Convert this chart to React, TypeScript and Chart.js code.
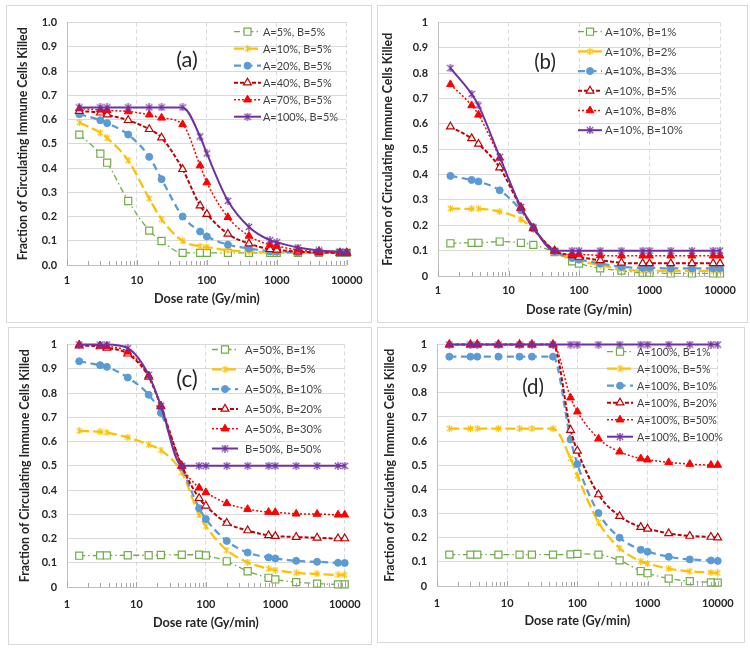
import React, { useEffect, useRef } from 'react';
import { Chart, registerables } from 'chart.js';

Chart.register(...registerables);
const FONT = 'Lato, "Open Sans", sans-serif';
Chart.defaults.font.family = FONT;

// ---------------- data ----------------
const doseRates = [1.5, 3, 3.75, 7.5, 15, 22.5, 45, 80, 100, 200, 400, 800, 1000, 2000, 4000, 8000, 10000];
const xTickValues = [1, 10, 100, 1000, 10000];
const xTickLabels = ['1', '10', '100', '1000', '10000'];
const yTickLabelsA = ['0.0', '0.1', '0.2', '0.3', '0.4', '0.5', '0.6', '0.7', '0.8', '0.9', '1.0'];
const yTickLabelsOther = ['0', '0.1', '0.2', '0.3', '0.4', '0.5', '0.6', '0.7', '0.8', '0.9', '1'];
const xAxisTitle = 'Dose rate (Gy/min)';
const yAxisTitle = 'Fraction of Circulating Immune Cells Killed';
const panelTags = ['(a)', '(b)', '(c)', '(d)'];

// panel (a)
const legendA = ['A=5%, B=5%', 'A=10%, B=5%', 'A=20%, B=5%', 'A=40%, B=5%', 'A=70%, B=5%', 'A=100%, B=5%'];
const a_A5 = [0.538, 0.459, 0.422, 0.264, 0.142, 0.099, 0.05, 0.05, 0.05, 0.05, 0.05, 0.05, 0.05, 0.05, 0.05, 0.05, 0.05];
const a_A10 = [0.588, 0.545, 0.524, 0.431, 0.274, 0.189, 0.099, 0.077, 0.074, 0.061, 0.055, 0.052, 0.052, 0.05, 0.05, 0.05, 0.05];
const a_A20 = [0.622, 0.597, 0.585, 0.538, 0.446, 0.354, 0.2, 0.138, 0.118, 0.084, 0.068, 0.057, 0.055, 0.052, 0.05, 0.05, 0.05];
const a_A40 = [0.635, 0.628, 0.62, 0.597, 0.56, 0.525, 0.395, 0.245, 0.21, 0.128, 0.088, 0.065, 0.062, 0.055, 0.052, 0.05, 0.05];
const a_A70 = [0.645, 0.64, 0.638, 0.633, 0.62, 0.607, 0.58, 0.41, 0.34, 0.197, 0.12, 0.083, 0.078, 0.062, 0.055, 0.052, 0.05];
const a_A100 = [0.65, 0.65, 0.65, 0.65, 0.65, 0.65, 0.65, 0.53, 0.46, 0.265, 0.157, 0.102, 0.094, 0.072, 0.06, 0.055, 0.053];

// panel (b)
const legendB = ['A=10%, B=1%', 'A=10%, B=2%', 'A=10%, B=3%', 'A=10%, B=5%', 'A=10%, B=8%', 'A=10%, B=10%'];
const b_B1 = [0.129, 0.131, 0.131, 0.136, 0.131, 0.123, 0.094, 0.058, 0.049, 0.03, 0.021, 0.013, 0.013, 0.01, 0.01, 0.01, 0.01];
const b_B2 = [0.266, 0.265, 0.265, 0.254, 0.224, 0.185, 0.094, 0.069, 0.06, 0.043, 0.026, 0.021, 0.021, 0.02, 0.02, 0.02, 0.02];
const b_B3 = [0.395, 0.379, 0.373, 0.338, 0.259, 0.188, 0.098, 0.071, 0.065, 0.049, 0.036, 0.032, 0.032, 0.03, 0.03, 0.03, 0.03];
const b_B5 = [0.589, 0.543, 0.521, 0.428, 0.269, 0.188, 0.1, 0.081, 0.075, 0.062, 0.052, 0.05, 0.05, 0.05, 0.05, 0.05, 0.05];
const b_B8 = [0.756, 0.673, 0.636, 0.466, 0.272, 0.191, 0.1, 0.085, 0.085, 0.081, 0.08, 0.08, 0.08, 0.08, 0.08, 0.08, 0.08];
const b_B10 = [0.82, 0.718, 0.673, 0.47, 0.272, 0.193, 0.1, 0.1, 0.1, 0.1, 0.1, 0.1, 0.1, 0.1, 0.1, 0.1, 0.1];

// panel (c)
const legendC = ['A=50%, B=1%', 'A=50%, B=5%', 'A=50%, B=10%', 'A=50%, B=20%', 'A=50%, B=30%', 'B=50%, B=50%'];
const c_B1 = [0.129, 0.13, 0.13, 0.131, 0.131, 0.132, 0.133, 0.133, 0.13, 0.106, 0.065, 0.038, 0.031, 0.02, 0.014, 0.011, 0.011];
const c_B5 = [0.644, 0.64, 0.637, 0.617, 0.587, 0.565, 0.472, 0.298, 0.251, 0.152, 0.102, 0.075, 0.07, 0.058, 0.054, 0.05, 0.05];
const c_B10 = [0.931, 0.915, 0.908, 0.864, 0.793, 0.718, 0.495, 0.325, 0.28, 0.19, 0.142, 0.122, 0.118, 0.108, 0.104, 0.1, 0.099];
const c_B20 = [0.996, 0.992, 0.986, 0.962, 0.867, 0.745, 0.5, 0.366, 0.335, 0.264, 0.233, 0.213, 0.21, 0.206, 0.203, 0.2, 0.2];
const c_B30 = [1.0, 0.996, 0.993, 0.97, 0.872, 0.748, 0.5, 0.409, 0.39, 0.345, 0.321, 0.309, 0.308, 0.302, 0.301, 0.298, 0.298];
const c_B50 = [1.0, 1.0, 1.0, 0.985, 0.875, 0.748, 0.5, 0.5, 0.5, 0.5, 0.5, 0.5, 0.5, 0.5, 0.5, 0.5, 0.5];

// panel (d)
const legendD = ['A=100%, B=1%', 'A=100%, B=5%', 'A=100%, B=10%', 'A=100%, B=20%', 'A=100%, B=50%', 'A=100%, B=100%'];
const d_B1 = [0.13, 0.13, 0.13, 0.13, 0.13, 0.13, 0.13, 0.131, 0.133, 0.13, 0.106, 0.062, 0.053, 0.031, 0.02, 0.015, 0.014];
const d_B5 = [0.652, 0.652, 0.652, 0.652, 0.652, 0.652, 0.652, 0.528, 0.457, 0.264, 0.157, 0.102, 0.093, 0.072, 0.061, 0.056, 0.054];
const d_B10 = [0.95, 0.95, 0.95, 0.95, 0.95, 0.95, 0.95, 0.607, 0.505, 0.302, 0.2, 0.15, 0.142, 0.121, 0.11, 0.106, 0.104];
const d_B20 = [1.0, 1.0, 1.0, 1.0, 1.0, 1.0, 1.0, 0.646, 0.56, 0.379, 0.289, 0.244, 0.237, 0.218, 0.207, 0.203, 0.2];
const d_B50 = [1.0, 1.0, 1.0, 1.0, 1.0, 1.0, 1.0, 0.78, 0.722, 0.61, 0.556, 0.528, 0.523, 0.512, 0.505, 0.501, 0.501];
const d_B100 = [1.0, 1.0, 1.0, 1.0, 1.0, 1.0, 1.0, 1.0, 1.0, 1.0, 1.0, 1.0, 1.0, 1.0, 1.0, 1.0, 1.0];

// ---------------- styles ----------------
type SeriesStyle = { color: string; dash: number[]; width: number; point: string; radius: number; fill: string; pbw: number };
const seriesStyles: SeriesStyle[] = [
  { color: '#70AD47', dash: [6, 3, 1.5, 3], width: 1.3, point: 'rect', radius: 5, fill: '#ffffff', pbw: 1.2 },
  { color: '#FFC000', dash: [10, 4], width: 2.25, point: 'star', radius: 7, fill: '#FFC000', pbw: 1.2 },
  { color: '#5B9BD5', dash: [7, 4.5], width: 2.25, point: 'circle', radius: 3.5, fill: '#5B9BD5', pbw: 1 },
  { color: '#C00000', dash: [4, 2], width: 2, point: 'triangle', radius: 4.5, fill: '#ffffff', pbw: 1.2 },
  { color: '#FF0000', dash: [2, 2], width: 1.5, point: 'triangle', radius: 4.5, fill: '#FF0000', pbw: 1 },
  { color: '#7030A0', dash: [], width: 2, point: 'star', radius: 8, fill: '#7030A0', pbw: 1.2 },
];

// target text widths measured on the reference, used to size the substitute font
const textTargets = { yTitle: 233, xTitle: 106, tick: 31.7, tag: 21.7 };

type PanelCfg = {
  box: { left: number; top: number; w: number; h: number };
  plot: { l: number; t: number; r: number; b: number };
  yLabels: string[];
  yTitleX: number;
  xTitleY: number;
  xLabelGap: number;
  tag: { text: string; x: number; y: number };
  legend: { x: number; len: number; textX: number; y0: number; dy: number; widest: string; width: number };
  labels: string[];
  series: number[][];
};

const panels: PanelCfg[] = [
  {
    box: { left: 6, top: 5, w: 366, h: 318 },
    plot: { l: 60, t: 13, r: 342, b: 259 },
    yLabels: yTickLabelsA, yTitleX: 16, xTitleY: 293, xLabelGap: 15,
    tag: { text: panelTags[0], x: 180, y: 54 },
    legend: { x: 227, len: 27, textX: 256, y0: 25.7, dy: 17, widest: 'A=100%, B=5%', width: 75 },
    labels: legendA, series: [a_A5, a_A10, a_A20, a_A40, a_A70, a_A100],
  },
  {
    box: { left: 377, top: 5, w: 371, h: 318 },
    plot: { l: 60, t: 12, r: 342, b: 270 },
    yLabels: yTickLabelsOther, yTitleX: 10, xTitleY: 304, xLabelGap: 14,
    tag: { text: panelTags[1], x: 167, y: 56 },
    legend: { x: 200, len: 24, textX: 227, y0: 25.7, dy: 19.7, widest: 'A=10%, B=10%', width: 78 },
    labels: legendB, series: [b_B1, b_B2, b_B3, b_B5, b_B8, b_B10],
  },
  {
    box: { left: 8, top: 327, w: 364, h: 318 },
    plot: { l: 58, t: 13, r: 340, b: 259 },
    yLabels: yTickLabelsOther, yTitleX: 16, xTitleY: 295, xLabelGap: 17,
    tag: { text: panelTags[2], x: 178, y: 52 },
    legend: { x: 203, len: 26, textX: 236, y0: 21.5, dy: 19.8, widest: 'A=50%, B=10%', width: 77 },
    labels: legendC, series: [c_B1, c_B5, c_B10, c_B20, c_B30, c_B50],
  },
  {
    box: { left: 377, top: 327, w: 368, h: 316 },
    plot: { l: 59, t: 12, r: 342, b: 258 },
    yLabels: yTickLabelsOther, yTitleX: 12, xTitleY: 293, xLabelGap: 17,
    tag: { text: panelTags[3], x: 155, y: 59 },
    legend: { x: 229, len: 26, textX: 259, y0: 23.7, dy: 17, widest: 'A=100%, B=100%', width: 86 },
    labels: legendD, series: [d_B1, d_B5, d_B10, d_B20, d_B50, d_B100],
  },
];

const TEXT = '#262626';

function fitSize(text: string, weight: string, target: number): number {
  const c = document.createElement('canvas').getContext('2d')!;
  c.font = `${weight} 100px ${FONT}`;
  const w = c.measureText(text).width;
  return w > 0 ? (100 * target) / w : 12;
}

function makeAsterisk(color: string, size: number, lw: number): HTMLCanvasElement {
  const c = document.createElement('canvas');
  c.width = size;
  c.height = size;
  const g = c.getContext('2d')!;
  g.strokeStyle = color;
  g.lineWidth = lw;
  const p = 0.8;
  g.beginPath();
  g.moveTo(p, p);
  g.lineTo(size - p, size - p);
  g.moveTo(size - p, p);
  g.lineTo(p, size - p);
  g.moveTo(size / 2, 0);
  g.lineTo(size / 2, size);
  g.stroke();
  return c;
}

function drawMarker(ctx: CanvasRenderingContext2D, ds: any, x: number, y: number) {
  const style = ds.pointStyle;
  if (style && typeof style === 'object') {
    ctx.drawImage(style, x - style.width / 2, y - style.height / 2);
    return;
  }
  const r = ds.pointRadius;
  ctx.fillStyle = ds.pointBackgroundColor;
  ctx.strokeStyle = ds.pointBorderColor;
  ctx.lineWidth = ds.pointBorderWidth;
  ctx.setLineDash([]);
  ctx.beginPath();
  if (style === 'rect') {
    const s = r * Math.SQRT1_2;
    ctx.rect(x - s, y - s, 2 * s, 2 * s);
  } else if (style === 'circle') {
    ctx.arc(x, y, r, 0, Math.PI * 2);
  } else if (style === 'triangle') {
    let a = 0;
    ctx.moveTo(x + Math.sin(a) * r, y - Math.cos(a) * r);
    a += (2 * Math.PI) / 3;
    ctx.lineTo(x + Math.sin(a) * r, y - Math.cos(a) * r);
    a += (2 * Math.PI) / 3;
    ctx.lineTo(x + Math.sin(a) * r, y - Math.cos(a) * r);
    ctx.closePath();
  }
  ctx.fill();
  ctx.stroke();
}

const panelDecor = {
  id: 'panelDecor',
  afterDatasetsDraw(chart: any, _args: any, opts: any) {
    const ctx: CanvasRenderingContext2D = chart.ctx;
    const xs = chart.scales.x;
    const area = chart.chartArea;
    // minor / major tick marks inside the x axis
    ctx.save();
    ctx.strokeStyle = '#a6a6a6';
    ctx.lineWidth = 1;
    for (let e = 0; e < xTickValues.length; e++) {
      const base = xTickValues[e];
      for (let m = 1; m < 10; m++) {
        const v = base * m;
        if (v > xTickValues[xTickValues.length - 1]) break;
        const px = Math.round(xs.getPixelForValue(v)) + 0.5;
        const len = m === 1 ? 5 : 4;
        ctx.beginPath();
        ctx.moveTo(px, area.bottom);
        ctx.lineTo(px, area.bottom - len);
        ctx.stroke();
      }
    }
    ctx.restore();

    // legend
    const lg = opts.legend;
    chart.data.datasets.forEach((ds: any, i: number) => {
      const y = lg.y0 + i * lg.dy;
      ctx.save();
      ctx.strokeStyle = ds.borderColor;
      ctx.lineWidth = ds.borderWidth;
      ctx.setLineDash(ds.borderDash || []);
      ctx.beginPath();
      ctx.moveTo(lg.x, y);
      ctx.lineTo(lg.x + lg.len, y);
      ctx.stroke();
      drawMarker(ctx, ds, lg.x + lg.len / 2, y);
      ctx.fillStyle = '#404040';
      ctx.font = `${opts.legendSize}px ${FONT}`;
      ctx.textBaseline = 'middle';
      ctx.textAlign = 'left';
      ctx.fillText(ds.label, lg.textX, y + 0.5);
      ctx.restore();
    });

    // panel tag
    ctx.save();
    ctx.fillStyle = '#262626';
    ctx.font = `${opts.tagSize}px ${FONT}`;
    ctx.textAlign = 'center';
    ctx.textBaseline = 'middle';
    ctx.fillText(opts.tag.text, opts.tag.x, opts.tag.y);
    ctx.restore();
  },
};

function Panel({ cfg }: { cfg: PanelCfg }) {
  const ref = useRef<HTMLCanvasElement>(null);
  const W = cfg.box.w - 2;
  const H = cfg.box.h - 2;

  useEffect(() => {
    if (!ref.current) return;
    const tickSize = fitSize('10000', 'bold', textTargets.tick);
    const xTitleSize = fitSize(xAxisTitle, 'bold', textTargets.xTitle);
    const yTitleSize = fitSize(yAxisTitle, 'bold', textTargets.yTitle);
    const legendSize = fitSize(cfg.legend.widest, 'normal', cfg.legend.width);
    const tagSize = fitSize(cfg.tag.text, 'normal', textTargets.tag);
    const tickLh = tickSize * 1.2;
    const xTitleLh = xTitleSize * 1.2;
    const yTitleLh = yTitleSize * 1.2;

    const datasets = cfg.series.map((vals, i) => {
      const st = seriesStyles[i];
      return {
        label: cfg.labels[i],
        data: doseRates.map((x, j) => ({ x, y: vals[j] })),
        borderColor: st.color,
        borderWidth: st.width,
        borderDash: st.dash,
        pointStyle: st.point === 'star' ? makeAsterisk(st.color, st.radius, st.pbw) : st.point,
        pointRadius: st.point === 'star' ? 3 : st.radius,
        pointBackgroundColor: st.fill,
        pointBorderColor: st.color,
        pointBorderWidth: st.pbw,
        pointHoverRadius: st.radius,
        cubicInterpolationMode: 'monotone' as const,
        fill: false,
        clip: false as const,
        order: 6 - i,
      };
    });

    const chart = new Chart(ref.current, {
      type: 'line',
      data: { datasets },
      options: {
        animation: false,
        responsive: false,
        maintainAspectRatio: false,
        events: [],
        layout: { padding: { left: 0, top: cfg.plot.t, right: W - cfg.plot.r, bottom: 0 } },
        plugins: {
          legend: { display: false },
          tooltip: { enabled: false },
          panelDecor: { legend: cfg.legend, tag: cfg.tag, legendSize, tagSize },
        } as any,
        scales: {
          x: {
            type: 'logarithmic',
            min: 1,
            max: 10000,
            afterFit: (s: any) => { s.height = H - cfg.plot.b; },
            afterBuildTicks: (s: any) => { s.ticks = xTickValues.map((v) => ({ value: v })); },
            ticks: {
              autoSkip: false,
              maxRotation: 0,
              padding: cfg.xLabelGap - tickLh / 2,
              color: TEXT,
              font: { family: FONT, size: tickSize, weight: 'bold' },
              callback: (_v: any, i: number) => xTickLabels[i],
            },
            grid: { color: '#d9d9d9', lineWidth: 1, drawTicks: false },
            border: { color: '#bfbfbf', width: 1, dash: [4, 3] },
            title: {
              display: true,
              text: xAxisTitle,
              color: TEXT,
              font: { family: FONT, size: xTitleSize, weight: 'bold' },
              padding: { top: 0, bottom: H - cfg.xTitleY - xTitleLh / 2 },
            },
          },
          y: {
            type: 'linear',
            min: 0,
            max: 1,
            afterFit: (s: any) => { s.width = cfg.plot.l; },
            ticks: {
              stepSize: 0.1,
              padding: 10,
              color: TEXT,
              font: { family: FONT, size: tickSize, weight: 'bold' },
              callback: (_v: any, i: number) => cfg.yLabels[i],
            },
            grid: { color: '#d9d9d9', lineWidth: 1, drawTicks: false },
            border: { color: '#bfbfbf', width: 1 },
            title: {
              display: true,
              text: yAxisTitle,
              color: TEXT,
              font: { family: FONT, size: yTitleSize, weight: 'bold' },
              padding: { top: cfg.yTitleX - yTitleLh / 2, bottom: 0 },
            },
          },
        },
      },
      plugins: [panelDecor],
    });
    return () => chart.destroy();
  }, []);

  return (
    <div
      style={{
        position: 'absolute',
        left: cfg.box.left,
        top: cfg.box.top,
        width: cfg.box.w,
        height: cfg.box.h,
        border: '1px solid #d9d9d9',
        boxSizing: 'border-box',
        background: '#ffffff',
      }}
    >
      <canvas ref={ref} width={W} height={H} style={{ display: 'block', width: W, height: H }} />
    </div>
  );
}

export default function App() {
  return (
    <div style={{ position: 'absolute', left: 0, top: 0, width: 750, height: 652, background: '#ffffff', overflow: 'hidden' }}>
      {panels.map((p, i) => (
        <Panel key={i} cfg={p} />
      ))}
    </div>
  );
}
